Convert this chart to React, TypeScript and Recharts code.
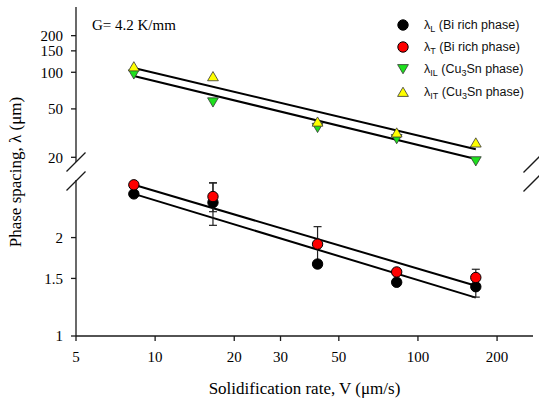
import { ComposedChart, ErrorBar, Legend, Line, Scatter, XAxis, YAxis } from "recharts";

// solidification rate (µm/s)
const V = [8.3, 16.6, 41.5, 83, 166];

// Bi rich phase spacing (µm), lower axis segment
const lambdaL = [2.72, 2.56, 1.66, 1.46, 1.415];
const lambdaT = [2.9, 2.67, 1.91, 1.57, 1.51];
const errL = [null, 0.38, 0.04, 0.03, 0.1];
const errT = [null, 0.27, 0.25, 0.03, 0.09];

// Cu3Sn phase spacing (µm), upper axis segment
const lambdaIL = [96.3, 56.7, 35.0, 28.3, 18.6];
const lambdaIT = [111.6, 92.6, 39.2, 31.9, 26.4];

// fitted lines, end points
const fitV = [8.3, 166];
const fitL = [2.72, 1.31];
const fitT = [2.9, 1.425];
const fitIL = [93.2, 19.4];
const fitIT = [108.5, 23.3];

const xTicks = [5, 10, 20, 30, 50, 100, 200];
const lowTicks = [1, 1.5, 2];
const highTicks = [20, 50, 100, 150, 200];

const lowRows = V.map((v, i) => ({ v, L: lambdaL[i], T: lambdaT[i], errL: errL[i], errT: errT[i] }));
const highRows = V.map((v, i) => ({ v, IL: lambdaIL[i], IT: lambdaIT[i] }));
const fitRows = (ys: number[]) => fitV.map((v, i) => ({ v, y: ys[i] }));

const W = 539;
const H = 402;
const AXIS = "#1a1a1a";
const SERIF = "'Liberation Serif', 'Times New Roman', serif";
const SANS = "'Liberation Sans', Arial, sans-serif";
const X_DOMAIN = [5, 274];

const GREEN = "#1ee01e";
const YELLOW = "#ffff00";

const circle = (fill: string) => (p: any) => (
  <circle cx={p.cx} cy={p.cy} r={5.2} fill={fill} stroke="#000" strokeWidth={1} />
);
const triUp = (fill: string) => (p: any) => (
  <polygon
    points={`${p.cx},${p.cy - 4.8} ${p.cx + 5.4},${p.cy + 4.4} ${p.cx - 5.4},${p.cy + 4.4}`}
    fill={fill}
    stroke="#333"
    strokeWidth={0.8}
  />
);
const triDown = (fill: string) => (p: any) => (
  <polygon
    points={`${p.cx - 5.4},${p.cy - 4.4} ${p.cx + 5.4},${p.cy - 4.4} ${p.cx},${p.cy + 4.8}`}
    fill={fill}
    stroke="#333"
    strokeWidth={0.8}
  />
);

const subStyle = { fontSize: 9, position: "relative" as const, top: 3, verticalAlign: "baseline" };

const legendItems = [
  { icon: <circle cx={7} cy={7} r={5.2} fill="#000" stroke="#000" />, sub: "L", phase: <>(Bi rich phase)</> },
  { icon: <circle cx={7} cy={7} r={5.2} fill="#ff0000" stroke="#000" />, sub: "T", phase: <>(Bi rich phase)</> },
  {
    icon: <polygon points="1.6,2.6 12.4,2.6 7,11.8" fill={GREEN} stroke="#333" strokeWidth={0.8} />,
    sub: "IL",
    phase: <>(Cu<sub style={subStyle}>3</sub>Sn phase)</>,
  },
  {
    icon: <polygon points="7,2.2 12.4,11.4 1.6,11.4" fill={YELLOW} stroke="#333" strokeWidth={0.8} />,
    sub: "IT",
    phase: <>(Cu<sub style={subStyle}>3</sub>Sn phase)</>,
  },
];

const renderLegend = () => (
  <div style={{ fontFamily: SANS, fontSize: 12.5, color: "#111" }}>
    {legendItems.map((it, i) => (
      <div key={i} style={{ display: "flex", alignItems: "center", height: 22.2 }}>
        <svg width={14} height={14}>{it.icon}</svg>
        <span style={{ marginLeft: 14, whiteSpace: "nowrap" }}>
          λ<sub style={subStyle}>{it.sub}</sub> {it.phase}
        </span>
      </div>
    ))}
  </div>
);

const tickStyle = { fontSize: 15, fill: "#000", fontFamily: SERIF };

function BreakMarks() {
  const marks = [
    [76, 162],
    [76, 181],
    [533, 163],
    [533, 182],
  ];
  return (
    <svg width={W} height={H} style={{ position: "absolute", left: 0, top: 0, pointerEvents: "none" }}>
      {marks.map(([x, y], i) => (
        <line key={i} x1={x - 9.5} y1={y + 9.5} x2={x + 9.5} y2={y - 9.5} stroke={AXIS} strokeWidth={1.3} />
      ))}
    </svg>
  );
}

export default function App() {
  return (
    <div style={{ position: "absolute", left: 0, top: 0, width: W, height: H, background: "#fff" }}>
      {/* lower segment: Bi rich phase, with the x axis */}
      <div style={{ position: "absolute", left: 0, top: 0 }}>
        <ComposedChart width={W} height={H} margin={{ top: 180, right: 6, bottom: 0, left: 0 }}>
          <XAxis
            dataKey="v"
            type="number"
            scale="log"
            domain={X_DOMAIN}
            ticks={xTicks}
            interval={0}
            height={66}
            tickSize={5}
            tickMargin={10}
            tick={tickStyle}
            stroke={AXIS}
            strokeWidth={1.3}
            label={{
              content: (p: any) => (
                <text
                  x={p.viewBox.x + p.viewBox.width / 2}
                  y={p.viewBox.y + 58}
                  textAnchor="middle"
                  fontSize={17}
                  fontFamily={SERIF}
                  fill="#000"
                >
                  Solidification rate, V (μm/s)
                </text>
              ),
            }}
          />
          <YAxis
            type="number"
            scale="log"
            domain={[1, 3]}
            ticks={lowTicks}
            interval={0}
            width={76}
            tickSize={5}
            tickMargin={8}
            tick={tickStyle}
            stroke={AXIS}
            strokeWidth={1.3}
            label={{
              content: () => (
                <text
                  transform="translate(21,172) rotate(-90)"
                  textAnchor="middle"
                  fontSize={17}
                  fontFamily={SERIF}
                  fill="#000"
                >
                  Phase spacing, λ (μm)
                </text>
              ),
            }}
          />
          <YAxis yAxisId="r" orientation="right" type="number" scale="log" domain={[1, 3]} width={0} tick={false} tickLine={false} stroke={AXIS} strokeWidth={1.3} />
          <Line data={fitRows(fitL)} dataKey="y" stroke="#000" strokeWidth={2} dot={false} legendType="none" isAnimationActive={false} />
          <Line data={fitRows(fitT)} dataKey="y" stroke="#000" strokeWidth={2} dot={false} legendType="none" isAnimationActive={false} />
          <Scatter data={lowRows} dataKey="L" name="λL (Bi rich phase)" shape={circle("#000")} isAnimationActive={false}>
            <ErrorBar dataKey="errL" direction="y" width={4} stroke="#222" strokeWidth={1.2} />
          </Scatter>
          <Scatter data={lowRows} dataKey="T" name="λT (Bi rich phase)" shape={circle("#ff0000")} isAnimationActive={false}>
            <ErrorBar dataKey="errT" direction="y" width={4} stroke="#222" strokeWidth={1.2} />
          </Scatter>
        </ComposedChart>
      </div>

      {/* upper segment: Cu3Sn phase */}
      <div style={{ position: "absolute", left: 0, top: 0 }}>
        <ComposedChart width={W} height={H} margin={{ top: 7, right: 6, bottom: H - 162, left: 0 }}>
          <XAxis
            dataKey="v"
            type="number"
            scale="log"
            domain={X_DOMAIN}
            orientation="top"
            height={0}
            tick={false}
            tickLine={false}
            stroke={AXIS}
            strokeWidth={1.3}
          />
          <YAxis
            type="number"
            scale="log"
            domain={[18.3, 344]}
            ticks={highTicks}
            interval={0}
            width={76}
            tickSize={5}
            tickMargin={8}
            tick={tickStyle}
            stroke={AXIS}
            strokeWidth={1.3}
          />
          <YAxis yAxisId="r" orientation="right" type="number" scale="log" domain={[18.3, 344]} width={0} tick={false} tickLine={false} stroke={AXIS} strokeWidth={1.3} />
          <Line data={fitRows(fitIL)} dataKey="y" stroke="#000" strokeWidth={2} dot={false} legendType="none" isAnimationActive={false} />
          <Line data={fitRows(fitIT)} dataKey="y" stroke="#000" strokeWidth={2} dot={false} legendType="none" isAnimationActive={false} />
          <Scatter data={highRows} dataKey="IL" name="λIL (Cu3Sn phase)" shape={triDown(GREEN)} isAnimationActive={false} />
          <Scatter data={highRows} dataKey="IT" name="λIT (Cu3Sn phase)" shape={triUp(YELLOW)} isAnimationActive={false} />
          <Legend
            layout="vertical"
            align="center"
            verticalAlign="middle"
            content={renderLegend}
            wrapperStyle={{ left: 396, top: 14, width: "auto", height: "auto" }}
          />
        </ComposedChart>
        <div
          style={{
            position: "absolute",
            left: 92,
            top: 15,
            fontFamily: SERIF,
            fontSize: 15,
            color: "#000",
            lineHeight: "20px",
            whiteSpace: "nowrap",
          }}
        >
          G= 4.2 K/mm
        </div>
      </div>
      <BreakMarks />
    </div>
  );
}
